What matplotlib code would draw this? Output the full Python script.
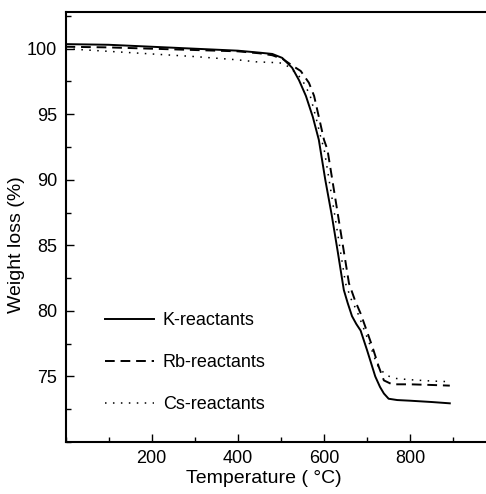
import numpy as np
import matplotlib.pyplot as plt
from matplotlib.ticker import MultipleLocator

plt.rcParams['font.family'] = ['Liberation Sans', 'DejaVu Sans']

# TGA traces (temperature in degC, remaining weight in %)
temp_k = [0, 100, 200, 300, 400, 450, 480, 503, 526, 542, 558, 574, 588, 603,
          618, 632, 646, 655, 665, 675, 685, 700, 719, 730, 739, 750, 770, 800,
          850, 892]
weight_k = [100.35, 100.3, 100.15, 100.0, 99.85, 99.7, 99.6, 99.3, 98.55, 97.6,
            96.4, 94.8, 93.05, 90.0, 87.3, 84.5, 81.6, 80.6, 79.6, 79.0, 78.5,
            77.0, 75.0, 74.2, 73.7, 73.3, 73.2, 73.15, 73.05, 72.95]

temp_rb = [0, 100, 200, 300, 400, 450, 480, 505, 527, 546, 565, 577, 588, 600,
           608, 633, 658, 672, 685, 712, 727, 739, 758, 800, 850, 892]
weight_rb = [100.15, 100.1, 100.0, 99.9, 99.8, 99.65, 99.5, 99.2, 98.7, 98.3,
             97.4, 96.4, 94.8, 93.05, 92.3, 87.2, 82.1, 80.8, 79.8, 77.3, 75.75,
             74.7, 74.4, 74.4, 74.35, 74.3]

temp_cs = [0, 100, 200, 300, 400, 442, 480, 503, 519, 540, 555, 568, 581, 594,
           600, 625, 650, 663, 677, 708, 723, 743, 766, 800, 850, 892]
weight_cs = [100.0, 99.8, 99.6, 99.4, 99.15, 99.0, 98.95, 98.9, 98.6, 98.0,
             97.3, 96.4, 94.8, 93.05, 92.4, 87.3, 82.1, 80.9, 79.95, 77.3, 75.9,
             75.1, 74.85, 74.75, 74.65, 74.6]

W, H = 486, 494
fig = plt.figure(figsize=(W / 100, H / 100), dpi=100)
ax = fig.add_axes([65.5 / W, (H - 442) / H, (489 - 65.5) / W, 430 / H])

ax.plot(temp_k, weight_k, color='black', lw=1.4, label='K-reactants')
ax.plot(temp_rb, weight_rb, color='black', lw=1.4, ls=(0, (5, 3)),
        label='Rb-reactants')
ax.plot(temp_cs, weight_cs, color='black', lw=1.1, ls=(0, (1, 4.2)),
        label='Cs-reactants')

ax.set_xlim(0, 983)
ax.set_ylim(70, 102.8)
ax.spines['right'].set_visible(False)
for s in ['left', 'bottom', 'top']:
    ax.spines[s].set_linewidth(1.5)

ax.xaxis.set_minor_locator(MultipleLocator(100))
ax.yaxis.set_minor_locator(MultipleLocator(2.5))
ax.set_xticks([200, 400, 600, 800])
ax.set_yticks([75, 80, 85, 90, 95, 100])
ax.tick_params(which='both', direction='in', width=1.0, labelsize=13,
               right=False, top=False)
ax.tick_params(which='major', length=5.5, pad=6)
ax.tick_params(which='minor', length=3.5)

ax.set_xlabel('Temperature ( °C)', fontsize=14)
ax.set_ylabel('Weight loss (%)', fontsize=14)
ax.xaxis.set_label_coords((264 - 65.5) / 423.5, -0.064)
ax.yaxis.set_label_coords(-0.095, (442 - 245) / 430)

ax.legend(loc='center left', bbox_to_anchor=(0.055, 0.185), frameon=False,
          fontsize=13, handlelength=2.7, handletextpad=0.5, labelspacing=1.38)

fig.savefig('out.png', dpi=100)
